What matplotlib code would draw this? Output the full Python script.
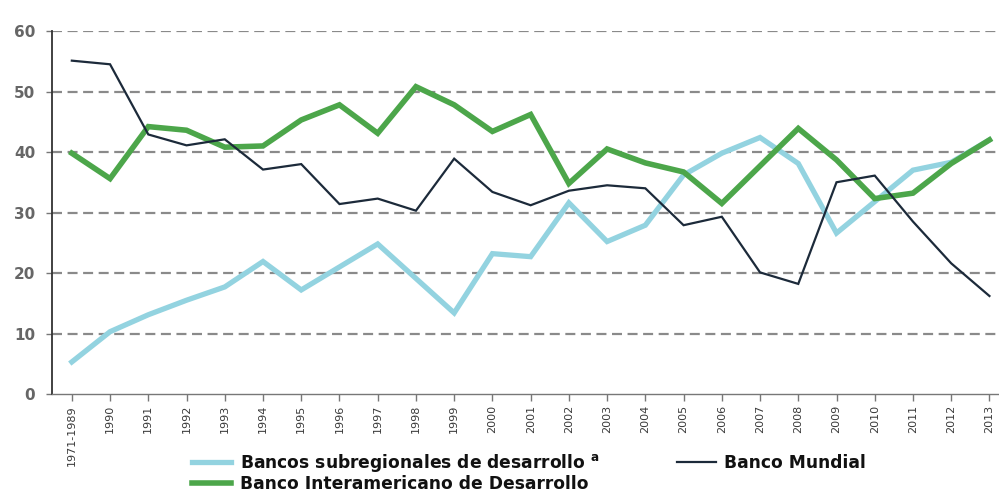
import matplotlib
matplotlib.use("Agg")
import matplotlib.pyplot as plt

categories = ["1971-1989"] + [str(y) for y in range(1990, 2014)]

subregionales = [5.3, 10.3, 13.1, 15.5, 17.7, 21.9, 17.2, 21.0, 24.8, 19.1, 13.4, 23.2,
                 22.7, 31.6, 25.2, 27.9, 36.2, 39.8, 42.4, 38.1, 26.6, 31.8, 37.0, 38.3, 42.0]
interamericano = [39.8, 35.6, 44.2, 43.6, 40.8, 41.0, 45.3, 47.8, 43.1, 50.8, 47.8, 43.4,
                  46.2, 34.8, 40.5, 38.2, 36.7, 31.5, 37.7, 43.9, 38.7, 32.3, 33.2, 38.1, 42.0]
mundial = [55.1, 54.5, 42.9, 41.1, 42.1, 37.1, 38.0, 31.4, 32.3, 30.3, 38.9, 33.4,
           31.2, 33.6, 34.5, 34.0, 27.9, 29.3, 20.1, 18.2, 35.0, 36.1, 28.5, 21.6, 16.2]
yticks = [0, 10, 20, 30, 40, 50, 60]

plt.rcParams['font.family'] = ['DejaVu Sans']

fig = plt.figure(figsize=(9.99, 4.93), dpi=100)
ax = fig.add_axes([0.052, 0.2008, 0.948, 0.7363])

x = list(range(len(categories)))
l1, = ax.plot(x, subregionales, color="#93d3e0", lw=3.8, solid_joinstyle='miter', zorder=3)
l2, = ax.plot(x, interamericano, color="#4ca64a", lw=4.0, solid_joinstyle='miter', zorder=4)
l3, = ax.plot(x, mundial, color="#1c2a3a", lw=1.6, solid_joinstyle='miter', zorder=5)

ax.set_xlim(-0.52, 24.25)
ax.set_ylim(0, 60)
ax.set_yticks(yticks)
ax.set_yticklabels([str(v) for v in yticks], fontsize=11, fontweight='bold', color="#666666")
ax.set_xticks(x)
ax.set_xticklabels(categories, rotation=90, fontsize=8, color="#3a3a3a")

for v in yticks[1:]:
    ax.axhline(v, color="#8a8a8a", lw=1.6, dashes=(4.5, 2.5), zorder=1)

for s in ['top', 'right']:
    ax.spines[s].set_visible(False)
ax.spines['left'].set_color("#333333")
ax.spines['left'].set_linewidth(1.3)
ax.spines['bottom'].set_color("#777777")
ax.spines['bottom'].set_linewidth(1.0)
ax.tick_params(axis='y', direction='out', length=4, width=1, color="#777777", pad=8)
ax.tick_params(axis='x', direction='out', length=5, width=1, color="#777777", pad=3)

leg = fig.legend([l1, l2, l3],
                 ["Bancos subregionales de desarrollo $^{\\mathregular{a}}$",
                  "Banco Interamericano de Desarrollo",
                  "Banco Mundial"],
                 ncol=2, loc='upper left', bbox_to_anchor=(192 / 999, 0.084),
                 frameon=False, prop={'weight': 'bold', 'size': 12.3},
                 handlelength=2.3, handletextpad=0.5, columnspacing=4.5,
                 labelspacing=0.08, borderpad=0, borderaxespad=0)
for t in leg.get_texts():
    t.set_color("#111111")

fig.savefig("out.png", dpi=100)
